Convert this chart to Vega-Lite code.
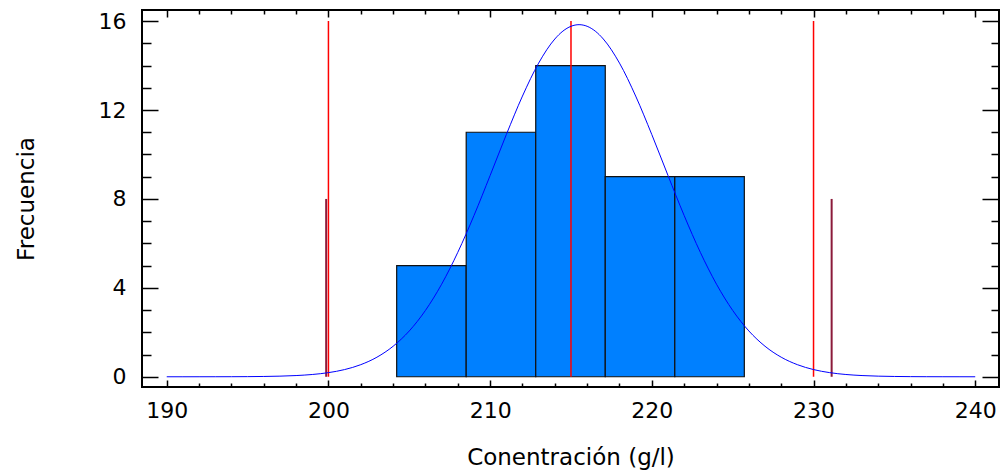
{
  "$schema": "https://vega.github.io/schema/vega-lite/v6.json",
  "width": 857,
  "height": 377,
  "autosize": {"type": "none"},
  "padding": {"left": 142, "top": 10, "right": 4, "bottom": 89},
  "background": "white",
  "config": {
    "view": {"stroke": "black", "strokeWidth": 2},
    "font": "DejaVu Sans",
    "axis": {
      "grid": false,
      "domain": false,
      "tickColor": "black",
      "tickWidth": 1.5,
      "labelFont": "DejaVu Sans",
      "labelFontSize": 22,
      "labelColor": "black",
      "titleFont": "DejaVu Sans",
      "titleFontSize": 23,
      "titleFontWeight": "normal",
      "titleColor": "black"
    }
  },
  "datasets": {
    "bins": [
      {"start": 204.22, "end": 208.52, "count": 5},
      {"start": 208.52, "end": 212.82, "count": 11},
      {"start": 212.82, "end": 217.12, "count": 14},
      {"start": 217.12, "end": 221.42, "count": 9},
      {"start": 221.42, "end": 225.72, "count": 9}
    ],
    "lines": [
      {"x": 199.86, "top": 8, "kind": "limit"},
      {"x": 231.12, "top": 8, "kind": "limit"},
      {"x": 200, "top": 16, "kind": "spec"},
      {"x": 215, "top": 16, "kind": "spec"},
      {"x": 230, "top": 16, "kind": "spec"}
    ],
    "curve": [
      {"x": 190, "y": 0.0001}, {"x": 191, "y": 0.0002}, {"x": 192, "y": 0.0006},
      {"x": 193, "y": 0.0014}, {"x": 194, "y": 0.0031}, {"x": 195, "y": 0.0067},
      {"x": 196, "y": 0.014}, {"x": 197, "y": 0.028}, {"x": 198, "y": 0.055},
      {"x": 199, "y": 0.103}, {"x": 200, "y": 0.186}, {"x": 201, "y": 0.324},
      {"x": 202, "y": 0.545}, {"x": 203, "y": 0.881}, {"x": 204, "y": 1.373},
      {"x": 205, "y": 2.062}, {"x": 206, "y": 2.986}, {"x": 207, "y": 4.164},
      {"x": 208, "y": 5.598}, {"x": 209, "y": 7.252}, {"x": 210, "y": 9.054},
      {"x": 211, "y": 10.893}, {"x": 212, "y": 12.629}, {"x": 213, "y": 14.111},
      {"x": 214, "y": 15.195}, {"x": 214.5, "y": 15.55}, {"x": 215, "y": 15.767},
      {"x": 215.5, "y": 15.84}, {"x": 216, "y": 15.767}, {"x": 216.5, "y": 15.55},
      {"x": 217, "y": 15.195}, {"x": 218, "y": 14.111}, {"x": 219, "y": 12.629},
      {"x": 220, "y": 10.893}, {"x": 221, "y": 9.054}, {"x": 222, "y": 7.252},
      {"x": 223, "y": 5.598}, {"x": 224, "y": 4.164}, {"x": 225, "y": 2.986},
      {"x": 226, "y": 2.062}, {"x": 227, "y": 1.373}, {"x": 228, "y": 0.881},
      {"x": 229, "y": 0.545}, {"x": 230, "y": 0.324}, {"x": 231, "y": 0.186},
      {"x": 232, "y": 0.103}, {"x": 233, "y": 0.055}, {"x": 234, "y": 0.028},
      {"x": 235, "y": 0.014}, {"x": 236, "y": 0.0067}, {"x": 237, "y": 0.0031},
      {"x": 238, "y": 0.0014}, {"x": 239, "y": 0.0006}, {"x": 240, "y": 0.0002}
    ]
  },
  "resolve": {"axis": {"x": "independent", "y": "independent"}},
  "layer": [
    {
      "data": {"name": "bins"},
      "mark": {"type": "rect", "fill": "#0080ff", "stroke": "#111111", "strokeWidth": 1.2},
      "encoding": {
        "x": {
          "field": "start", "type": "quantitative",
          "scale": {"domain": [188.47, 241.47], "nice": false, "zero": false},
          "axis": {
            "orient": "bottom",
            "title": "Conentración (g/l)",
            "values": [190,192,194,196,198,200,202,204,206,208,210,212,214,216,218,220,222,224,226,228,230,232,234,236,238,240],
            "labelExpr": "datum.value % 10 === 0 ? datum.label : ''",
            "labelOverlap": false,
            "tickSize": {"condition": {"test": "datum.value % 10 === 0", "value": -7}, "value": -4},
            "labelPadding": 20,
            "labelBaseline": "top",
            "titlePadding": 22
          }
        },
        "x2": {"field": "end"},
        "y": {
          "field": "count", "type": "quantitative",
          "scale": {"domain": [-0.46, 16.5], "nice": false, "zero": false},
          "axis": {
            "orient": "left",
            "title": "Frecuencia",
            "values": [0,1,2,3,4,5,6,7,8,9,10,11,12,13,14,15,16],
            "labelExpr": "datum.value % 4 === 0 ? datum.label : ''",
            "labelOverlap": false,
            "tickSize": {"condition": {"test": "datum.value % 4 === 0", "value": -16}, "value": -9},
            "labelPadding": 32,
            "titlePadding": 60
          }
        },
        "y2": {"datum": 0}
      }
    },
    {
      "mark": {"type": "rule", "color": "#222222", "strokeWidth": 1},
      "encoding": {
        "x": {"datum": 200, "type": "quantitative", "axis": null},
        "x2": {"datum": 230},
        "y": {"datum": 0, "type": "quantitative", "axis": null}
      }
    },
    {
      "data": {"name": "lines"},
      "mark": {"type": "rule"},
      "encoding": {
        "x": {"field": "x", "type": "quantitative", "axis": null},
        "y": {"field": "top", "type": "quantitative", "axis": null},
        "y2": {"datum": 0},
        "color": {"field": "kind", "type": "nominal", "scale": {"domain": ["limit", "spec"], "range": ["#8b1a3a", "#ff0000"]}, "legend": null},
        "strokeWidth": {"field": "kind", "type": "nominal", "scale": {"domain": ["limit", "spec"], "range": [2, 1.5]}, "legend": null}
      }
    },
    {
      "data": {"name": "curve"},
      "mark": {"type": "line", "color": "#0000ff", "strokeWidth": 1, "interpolate": "monotone"},
      "encoding": {
        "x": {
          "field": "x", "type": "quantitative",
          "axis": {
            "orient": "top",
            "title": null,
            "labels": false,
            "values": [190,192,194,196,198,200,202,204,206,208,210,212,214,216,218,220,222,224,226,228,230,232,234,236,238,240],
            "tickSize": {"condition": {"test": "datum.value % 10 === 0", "value": -7}, "value": -4}
          }
        },
        "y": {
          "field": "y", "type": "quantitative",
          "axis": {
            "orient": "right",
            "title": null,
            "labels": false,
            "values": [0,1,2,3,4,5,6,7,8,9,10,11,12,13,14,15,16],
            "tickSize": {"condition": {"test": "datum.value % 4 === 0", "value": -17}, "value": -8}
          }
        }
      }
    }
  ]
}
